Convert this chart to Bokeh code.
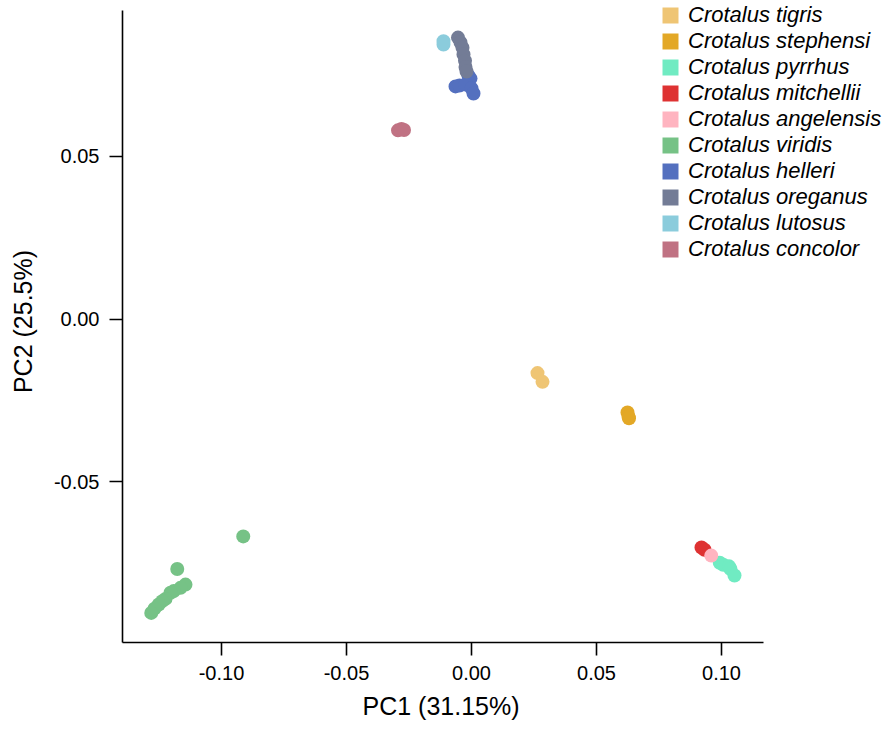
from bokeh.plotting import figure
from bokeh.models import (ColumnDataSource, Range1d, FixedTicker, Legend, LegendItem,
                          PrintfTickFormatter, Title)
from bokeh.embed import file_html
from bokeh.resources import INLINE

# PCA scores per species (PC1, PC2)
species = ["Crotalus tigris", "Crotalus stephensi", "Crotalus pyrrhus",
           "Crotalus mitchellii", "Crotalus angelensis", "Crotalus viridis",
           "Crotalus helleri", "Crotalus oreganus", "Crotalus lutosus",
           "Crotalus concolor"]
colors = ["#EFC574", "#E3A826", "#70EBC2", "#DE3232", "#FFB4C0",
          "#76C286", "#5470BF", "#737C96", "#8BCCDC", "#C07283"]

tigris_pc1 = [0.0264, 0.0284]
tigris_pc2 = [-0.0166, -0.0193]
stephensi_pc1 = [0.0624, 0.0628, 0.0630]
stephensi_pc2 = [-0.0287, -0.0300, -0.0305]
pyrrhus_pc1 = [0.0993, 0.1007, 0.1030, 0.1036, 0.1052]
pyrrhus_pc2 = [-0.0749, -0.0755, -0.0760, -0.0768, -0.0788]
mitchellii_pc1 = [0.0920, 0.0932]
mitchellii_pc2 = [-0.0702, -0.0709]
angelensis_pc1 = [0.0959]
angelensis_pc2 = [-0.0727]
viridis_pc1 = [-0.0913, -0.1177, -0.1144, -0.1164, -0.1191, -0.1204,
               -0.1224, -0.1237, -0.1251, -0.1268, -0.1281]
viridis_pc2 = [-0.0668, -0.0768, -0.0816, -0.0826, -0.0836, -0.0841,
               -0.0860, -0.0867, -0.0877, -0.0890, -0.0903]
helleri_pc1 = [-0.0012, -0.0004, -0.0064, -0.0048, -0.0024, 0.0000, 0.0008]
helleri_pc2 = [0.0748, 0.0739, 0.0715, 0.0718, 0.0721, 0.0709, 0.0693]
oreganus_pc1 = [-0.0054, -0.0044, -0.0036, -0.0032, -0.0026, -0.0024, -0.0020]
oreganus_pc2 = [0.0865, 0.0850, 0.0834, 0.0813, 0.0794, 0.0775, 0.0761]
lutosus_pc1 = [-0.0112, -0.0112]
lutosus_pc2 = [0.0854, 0.0844]
concolor_pc1 = [-0.0294, -0.0280, -0.0270]
concolor_pc2 = [0.0580, 0.0584, 0.0581]

pc1 = [tigris_pc1, stephensi_pc1, pyrrhus_pc1, mitchellii_pc1, angelensis_pc1,
       viridis_pc1, helleri_pc1, oreganus_pc1, lutosus_pc1, concolor_pc1]
pc2 = [tigris_pc2, stephensi_pc2, pyrrhus_pc2, mitchellii_pc2, angelensis_pc2,
       viridis_pc2, helleri_pc2, oreganus_pc2, lutosus_pc2, concolor_pc2]

x_ticks = [-0.10, -0.05, 0.00, 0.05, 0.10]
y_ticks = [-0.05, 0.00, 0.05]

# extent of the drawn axis lines (the frame is wider so the legend fits)
x_axis_span = (-0.1396, 0.1168)
y_axis_span = (-0.0994, 0.0948)

FONT = "Liberation Sans"

p = figure(width=890, height=730, output_backend="svg", toolbar_location=None,
           x_range=Range1d(-0.1396, 0.1656), y_range=Range1d(-0.0994, 0.0979),
           min_border_left=122, min_border_right=5, min_border_top=0,
           min_border_bottom=87)
p.outline_line_color = None
p.grid.visible = False
p.background_fill_color = "white"

for ax, ticks, span in ((p.xaxis, x_ticks, x_axis_span), (p.yaxis, y_ticks, y_axis_span)):
    ax.ticker = FixedTicker(ticks=ticks)
    ax.bounds = span
    ax.formatter = PrintfTickFormatter(format="%.2f")
    ax.minor_tick_line_color = None
    ax.major_tick_out = 13
    ax.major_tick_in = 0
    ax.axis_line_width = 1.6
    ax.major_tick_line_width = 1.6
    ax.axis_line_color = "black"
    ax.major_tick_line_color = "black"
    ax.major_label_text_font = FONT
    ax.major_label_text_font_size = "20px"
    ax.major_label_text_color = "black"
    ax.axis_label_text_font = FONT
    ax.axis_label_text_font_size = "25px"
    ax.axis_label_text_font_style = "normal"
    ax.axis_label_text_color = "black"
    ax.major_label_standoff = 10

p.yaxis.axis_label = "PC2 (25.5%)"
p.yaxis.axis_label_standoff = 14
p.yaxis.major_label_orientation = "horizontal"

# x-axis title sits under the drawn axis line rather than the wider frame
x_title = Title(text="PC1 (31.15%)", align="left", offset=240,
                vertical_align="top", standoff=18,
                text_font=FONT, text_font_size="25px", text_font_style="normal",
                text_color="black")
p.add_layout(x_title, "below")

nan = float("nan")
items = []
for name, col, xs, ys in zip(species, colors, pc1, pc2):
    src = ColumnDataSource(data=dict(x=xs, y=ys))
    p.scatter("x", "y", source=src, size=14, fill_color=col, line_color=None)
    # square swatch used only for the legend entry
    key = p.quad(left=[nan], right=[nan], top=[nan], bottom=[nan],
                 fill_color=col, line_color=None)
    items.append(LegendItem(label=name, renderers=[key]))

legend = Legend(items=items, location=(538, 380), orientation="vertical",
                label_text_font=FONT, label_text_font_size="22px",
                label_text_font_style="italic", label_text_color="black",
                label_text_line_height=1.16,
                glyph_width=20, glyph_height=20, label_height=25, spacing=0,
                label_standoff=8, padding=0, margin=0,
                border_line_color=None, background_fill_alpha=0)
p.add_layout(legend, "center")

open("out.html", "w").write(file_html(p, INLINE))
